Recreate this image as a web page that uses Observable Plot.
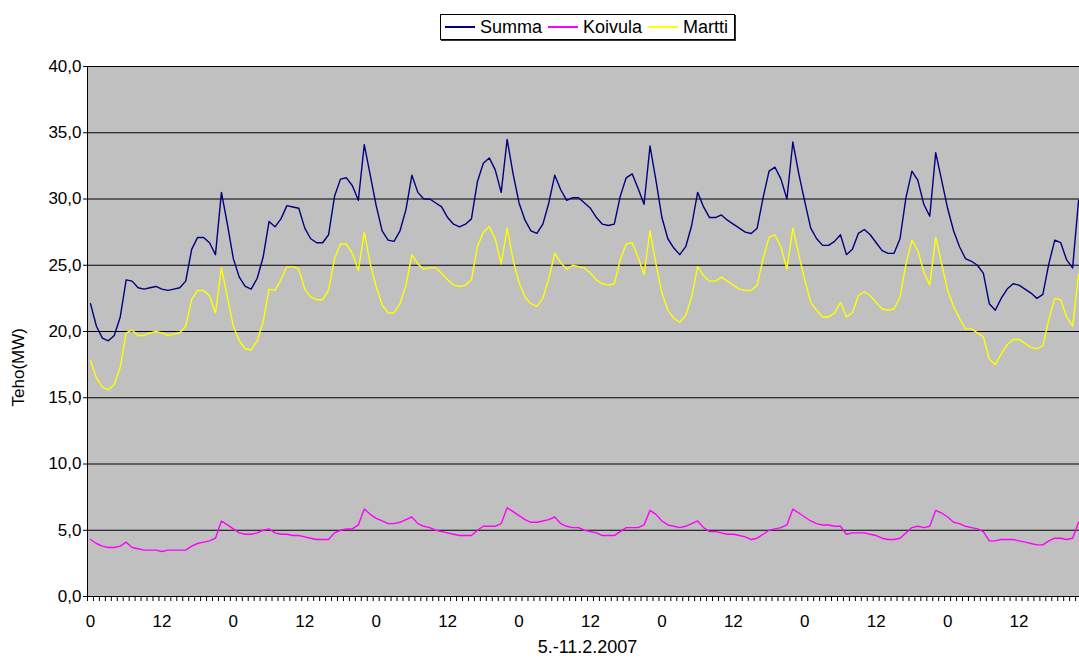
<!DOCTYPE html>
<html>
<head>
<meta charset="utf-8">
<script src="https://cdn.jsdelivr.net/npm/d3@7"></script>
<script src="https://cdn.jsdelivr.net/npm/@observablehq/plot@0.6"></script>
<style>
  html, body { margin: 0; padding: 0; background: #fff; overflow: hidden; }
  #chart { position: relative; width: 1079px; height: 660px; font-family: "Liberation Sans", Arial, sans-serif; }
  #legend {
    position: absolute; left: 440px; top: 14px; height: 26px; width: 295px;
    border: 1px solid #000; background: #fff; box-shadow: 1px 1px 0 #333;
    display: flex; align-items: center; font-size: 18px; color: #000; box-sizing: border-box;
    padding-left: 4px;
  }
  #legend .sw { display: inline-block; width: 30px; height: 2px; margin-right: 5px; }
  #legend .lab { margin-right: 6px; }
</style>
</head>
<body>
<div id="chart">
  <div id="legend"></div>
</div>
<script>
// Hourly power (MW), 5.–11.2.2007, one value per hour starting at 00:00 on 5.2.
const seriesNames = ["Summa", "Koivula", "Martti"];
const seriesColors = ["#000080", "#ff00ff", "#ffff00"];

const summa = [
  22.1, 20.4, 19.5, 19.3, 19.7, 21.1, 23.9, 23.8, 23.3, 23.2, 23.3, 23.4,
  23.2, 23.1, 23.2, 23.3, 23.8, 26.2, 27.1, 27.1, 26.7, 25.8, 30.5, 28.1,
  25.5, 24.1, 23.4, 23.2, 24.0, 25.6, 28.3, 27.9, 28.5, 29.5, 29.4, 29.3,
  27.8, 27.0, 26.7, 26.7, 27.3, 30.2, 31.5, 31.6, 31.0, 29.9, 34.1, 31.8,
  29.5, 27.6, 26.9, 26.8, 27.6, 29.2, 31.8, 30.5, 30.0, 30.0, 29.7, 29.4,
  28.6, 28.1, 27.9, 28.1, 28.5, 31.3, 32.7, 33.1, 32.2, 30.5, 34.5, 31.9,
  29.7, 28.4, 27.6, 27.4, 28.1, 29.7, 31.8, 30.7, 29.9, 30.1, 30.1, 29.7,
  29.3, 28.6, 28.1, 28.0, 28.1, 30.2, 31.6, 31.9, 30.8, 29.6, 34.0, 31.4,
  28.6, 27.0, 26.3, 25.8, 26.4, 28.0, 30.5, 29.4, 28.6, 28.6, 28.8, 28.4,
  28.1, 27.8, 27.5, 27.4, 27.8, 30.1, 32.1, 32.4, 31.5, 30.0, 34.3, 31.9,
  29.8, 27.8, 27.0, 26.5, 26.5, 26.8, 27.3, 25.8, 26.2, 27.4, 27.7, 27.3,
  26.7, 26.1, 25.9, 25.9, 27.0, 30.1, 32.1, 31.4, 29.6, 28.7, 33.5, 31.4,
  29.3, 27.6, 26.4, 25.5, 25.3, 25.0, 24.4, 22.1, 21.6, 22.5, 23.2, 23.6,
  23.5, 23.2, 22.9, 22.5, 22.8, 25.1, 26.9, 26.7, 25.4, 24.8, 29.9
];

const koivula = [
  4.3, 4.0, 3.8, 3.7, 3.7, 3.8, 4.1, 3.7, 3.6, 3.5, 3.5, 3.5,
  3.4, 3.5, 3.5, 3.5, 3.5, 3.8, 4.0, 4.1, 4.2, 4.4, 5.7, 5.4,
  5.1, 4.8, 4.7, 4.7, 4.8, 5.0, 5.1, 4.8, 4.7, 4.7, 4.6, 4.6,
  4.5, 4.4, 4.3, 4.3, 4.3, 4.8, 5.0, 5.1, 5.1, 5.4, 6.6, 6.2,
  5.9, 5.7, 5.5, 5.5, 5.6, 5.8, 6.0, 5.5, 5.3, 5.2, 5.0, 4.9,
  4.8, 4.7, 4.6, 4.6, 4.6, 5.0, 5.3, 5.3, 5.3, 5.5, 6.7, 6.4,
  6.1, 5.8, 5.6, 5.6, 5.7, 5.8, 6.0, 5.5, 5.3, 5.2, 5.2, 5.0,
  4.9, 4.8, 4.6, 4.6, 4.6, 4.9, 5.2, 5.2, 5.2, 5.4, 6.5, 6.2,
  5.7, 5.4, 5.3, 5.2, 5.3, 5.5, 5.7, 5.2, 4.9, 4.9, 4.8, 4.7,
  4.7, 4.6, 4.5, 4.3, 4.4, 4.7, 5.0, 5.1, 5.2, 5.4, 6.6, 6.3,
  6.0, 5.7, 5.5, 5.4, 5.4, 5.3, 5.3, 4.7, 4.8, 4.8, 4.8, 4.7,
  4.6, 4.4, 4.3, 4.3, 4.4, 4.8, 5.2, 5.3, 5.2, 5.3, 6.5, 6.3,
  6.0, 5.6, 5.5, 5.3, 5.2, 5.1, 4.9, 4.2, 4.2, 4.3, 4.3, 4.3,
  4.2, 4.1, 4.0, 3.9, 3.9, 4.2, 4.4, 4.4, 4.3, 4.4, 5.6
];

const martti = [
  17.8, 16.5, 15.8, 15.6, 16.0, 17.3, 19.9, 20.1, 19.7, 19.7, 19.9, 20.0,
  19.9, 19.7, 19.8, 19.9, 20.4, 22.4, 23.1, 23.1, 22.7, 21.4, 24.8, 22.6,
  20.4, 19.3, 18.7, 18.6, 19.3, 20.7, 23.2, 23.1, 23.9, 24.9, 24.9, 24.7,
  23.2, 22.6, 22.4, 22.4, 23.1, 25.5, 26.6, 26.6, 25.9, 24.6, 27.5, 25.1,
  23.4, 22.0, 21.4, 21.4, 22.1, 23.5, 25.8, 25.1, 24.7, 24.8, 24.8, 24.4,
  23.9, 23.5, 23.4, 23.5, 23.9, 26.4, 27.5, 27.9, 27.0, 25.1, 27.8, 25.4,
  23.7, 22.6, 22.1, 21.9, 22.5, 24.0, 25.9, 25.2, 24.7, 25.0, 24.9, 24.8,
  24.4, 23.9, 23.6, 23.5, 23.6, 25.4, 26.6, 26.7, 25.6, 24.3, 27.6, 25.1,
  22.9, 21.6, 21.0, 20.7, 21.2, 22.6, 24.9, 24.2, 23.8, 23.8, 24.1, 23.8,
  23.5, 23.2, 23.1, 23.1, 23.5, 25.5, 27.1, 27.3, 26.4, 24.7, 27.8, 25.8,
  23.9, 22.2, 21.6, 21.1, 21.1, 21.4, 22.2, 21.1, 21.4, 22.7, 23.0, 22.7,
  22.2, 21.7, 21.6, 21.7, 22.6, 25.1, 26.9, 26.1, 24.5, 23.5, 27.1, 25.1,
  23.1, 21.9, 21.0, 20.2, 20.2, 19.9, 19.6, 17.9, 17.5, 18.3, 19.0, 19.4,
  19.4, 19.1, 18.8, 18.7, 18.9, 20.9, 22.5, 22.4, 21.1, 20.4, 24.3
];

const yTicks = [0, 5, 10, 15, 20, 25, 30, 35, 40];
const hourLabels = ["0", "12"];          // shown every 12 hours
const hoursInWeek = 168;
const xTitle = "5.-11.2.2007";
const yTitle = "Teho(MW)";

const FONT = 17;
const hours = d3.range(hoursInWeek);
const labelHours = hours.filter(h => h % 12 === 0);
const categoryEdges = hours.map(h => h - 0.5).concat([hoursInWeek - 0.5]);
const xDomain = [-0.5, hoursInWeek - 0.5];
const yDomain = [0, 40];

const chart = Plot.plot({
  width: 1079,
  height: 660,
  marginLeft: 87,
  marginRight: 0,
  marginTop: 66,
  marginBottom: 64,
  style: { fontFamily: '"Liberation Sans", Arial, sans-serif', fontSize: FONT + "px", background: "transparent" },
  x: { domain: xDomain, range: [87, 1087] },
  y: { domain: yDomain },
  marks: [
    Plot.frame({ fill: "#c0c0c0", stroke: "none" }),
    Plot.ruleY(yTicks, { stroke: "#000", strokeWidth: 1 }),
    Plot.lineY(summa, { stroke: seriesColors[0], strokeWidth: 1.4 }),
    Plot.lineY(koivula, { stroke: seriesColors[1], strokeWidth: 1.4 }),
    Plot.lineY(martti, { stroke: seriesColors[2], strokeWidth: 1.4 }),
    Plot.ruleX([xDomain[0]], { stroke: "#000" }),
    Plot.axisY(yTicks, {
      tickSize: 4, tickPadding: 2, fontSize: FONT,
      tickFormat: d => d.toFixed(1).replace(".", ","), label: null
    }),
    Plot.axisX(categoryEdges, { tickSize: 5, tickFormat: () => "", label: null }),
    Plot.axisX(labelHours, {
      tickSize: 0, tickPadding: 18, fontSize: FONT,
      tickFormat: h => hourLabels[(h % 24) / 12], label: null
    }),
    Plot.text([xTitle], {
      x: (xDomain[0] + xDomain[1]) / 2, frameAnchor: "bottom", dy: 56, fontSize: 18
    }),
    // vertical axis title, a little below the middle of the plot
    Plot.text([yTitle], {
      x: xDomain[0], y: (yDomain[0] + yDomain[1]) / 2 - 2.7,
      rotate: -90, dx: -69, fontSize: FONT
    })
  ]
});
document.getElementById("chart").prepend(chart);

// Legend row: a short coloured line sample before each series name
const legend = d3.select("#legend");
seriesNames.forEach((name, i) => {
  legend.append("span").attr("class", "sw").style("background-color", seriesColors[i]);
  legend.append("span").attr("class", "lab").text(name);
});
</script>
</body>
</html>
